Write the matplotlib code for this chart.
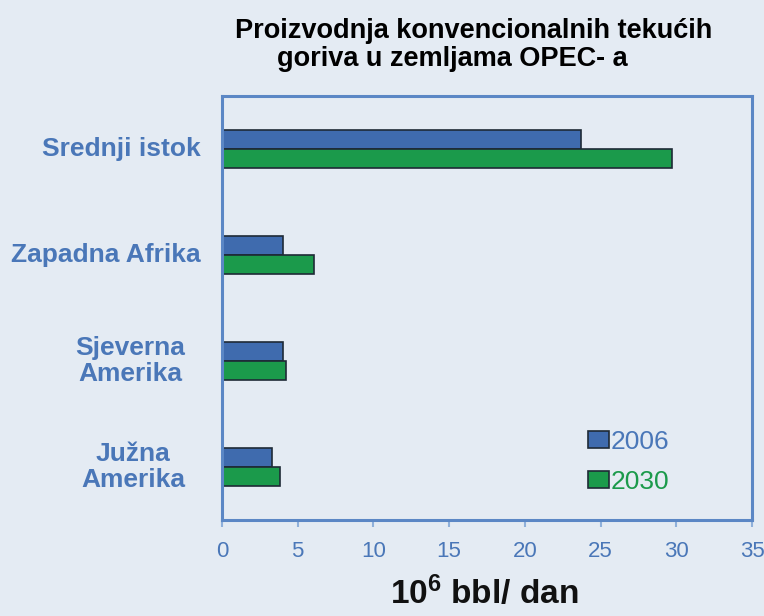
import matplotlib
matplotlib.use("Agg")
import matplotlib.pyplot as plt
import numpy as np
from matplotlib.patches import Patch

categories = ["Srednji istok", "Zapadna Afrika", "Sjeverna\nAmerika", "Južna\nAmerika"]
series_names = ["2006", "2030"]
values_2006 = [23.7, 4.0, 4.0, 3.3]
values_2030 = [29.7, 6.1, 4.2, 3.8]
x_ticks = [0, 5, 10, 15, 20, 25, 30, 35]

bg = "#e4ebf3"
blue = "#3f6bae"
green = "#1b9a4b"
edge = "#1e2a36"
axis_blue = "#5b87c5"
label_blue = "#4a77b8"

plt.rcParams["mathtext.fontset"] = "custom"
plt.rcParams["mathtext.bf"] = "Liberation Sans:bold"
plt.rcParams["mathtext.rm"] = "Liberation Sans"

narrow = ["Liberation Sans Narrow", "Liberation Sans", "DejaVu Sans"]
arial = ["Liberation Sans", "DejaVu Sans"]

fig = plt.figure(figsize=(7.64, 6.16), dpi=100, facecolor=bg)
ax = fig.add_axes([0.2906, 0.1558, 0.6937, 0.6883])
ax.set_facecolor(bg)

y = np.arange(len(categories))
h = 0.18
ax.barh(y - h / 2, values_2006, height=h, color=blue, edgecolor=edge, linewidth=1.2, label=series_names[0])
ax.barh(y + h / 2, values_2030, height=h, color=green, edgecolor=edge, linewidth=1.2, label=series_names[1])

ax.set_xlim(0, 35)
ax.set_ylim(3.5, -0.5)
ax.set_xticks(x_ticks)
ax.set_xticklabels([str(t) for t in x_ticks], family=narrow, fontsize=16, color=label_blue)
ax.tick_params(axis="x", direction="out", length=5, width=1.5, color="#8fb0da", pad=10)
ax.set_yticks(y)
ax.set_yticklabels([""] * len(categories))
ax.tick_params(axis="y", length=0)

for s in ax.spines.values():
    s.set_color(axis_blue)
    s.set_linewidth(2.2)

# category labels (centers in pixel x)
label_px = [121, 106, 130, 133]
for yi, cat, px in zip(y, categories, label_px):
    ax.text((px - 222) / 530.0, yi, cat, transform=ax.get_yaxis_transform(),
            ha="center", va="center", multialignment="center",
            family=narrow, fontsize=19, fontweight="bold", color=label_blue,
            linespacing=1.15)

fig.text(474 / 764, 1 - 31 / 616, "Proizvodnja konvencionalnih tekućih", ha="center", va="center",
         family=arial, fontsize=19.5, fontweight="bold", color="black")
fig.text(452 / 764, 1 - 59 / 616, "goriva u zemljama OPEC- a", ha="center", va="center",
         family=arial, fontsize=19.5, fontweight="bold", color="black")

fig.text(484 / 764, 1 - 593 / 616, r"$\mathbf{10^{6}}$ bbl/ dan", ha="center", va="center",
         family=arial, fontsize=24, fontweight="bold", color="#111111")

handles = [Patch(facecolor=blue, edgecolor=edge, linewidth=1.2),
           Patch(facecolor=green, edgecolor=edge, linewidth=1.2)]
leg = ax.legend(handles, series_names, loc="upper left",
                bbox_to_anchor=((588 - 222) / 530, 1 - (430 - 96) / 424),
                frameon=False, borderpad=0, borderaxespad=0,
                handlelength=0.8, handleheight=0.6, handletextpad=0.05,
                labelspacing=0.6, prop={"family": narrow, "size": 19},
                labelcolor=[label_blue, green])

fig.savefig("out.png", dpi=100, facecolor=bg)
